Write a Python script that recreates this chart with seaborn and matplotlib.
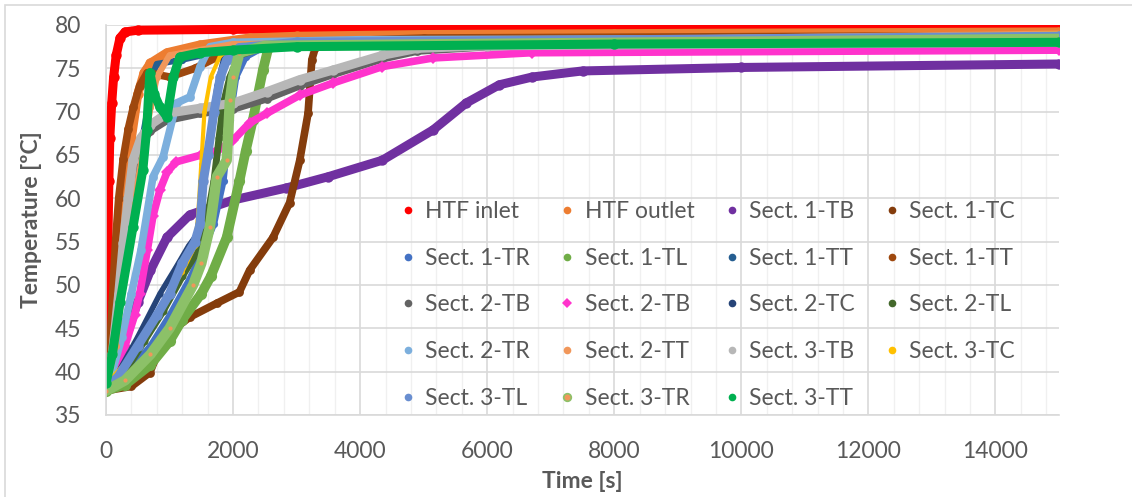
import matplotlib
matplotlib.use("Agg")
import matplotlib.pyplot as plt
from matplotlib.lines import Line2D
from matplotlib.patches import Rectangle
from matplotlib.ticker import MultipleLocator
import seaborn as sns

# ---- temperature histories: time [s] and temperature [ºC] per sensor ----
htf_inlet_t = [0, 15, 30, 45, 60, 90, 120, 160, 220, 300, 500, 2000, 6000, 15000]
htf_inlet_T = [38, 45, 55, 62, 67, 71, 74, 76.5, 78.5, 79.2, 79.4, 79.5, 79.6, 79.7]

htf_outlet_t = [0, 100, 200, 300, 400, 500, 600, 700, 960, 1480, 2260, 3000, 5000, 8000, 15000]
htf_outlet_T = [38, 42, 50, 60, 67, 72, 74.5, 75.6, 76.8, 77.7, 78.5, 78.7, 78.9, 79.0, 79.2]

s1_tb_t = [0, 100, 200, 350, 500, 700, 960, 1320, 2000, 2840, 3500, 4350, 5150, 5670, 6190, 6710, 7500, 10000, 15000]
s1_tb_T = [38, 39, 41, 45, 48, 51.7, 55.5, 58.1, 59.8, 61.2, 62.5, 64.4, 67.9, 71, 73.1, 74, 74.7, 75.1, 75.5]

s1_tc_t = [0, 400, 690, 820, 1000, 1320, 1745, 2100, 2260, 2630, 2890, 3050, 3180, 3240, 3300, 5000, 15000]
s1_tc_T = [37.8, 38.3, 39.9, 42.2, 44.5, 46.3, 47.9, 49.2, 51.7, 55.5, 59.5, 64.4, 69.8, 76, 77.5, 78, 78.5]

s1_tr_t = [0, 300, 700, 1000, 1300, 1500, 1700, 1850, 1950, 2050, 2200, 2500, 15000]
s1_tr_T = [38, 39.5, 43, 46.5, 50.5, 53.5, 57, 62, 69, 74, 76.3, 77.5, 78.7]

s1_tl_t = [0, 300, 700, 1000, 1200, 1500, 1650, 1900, 2100, 2200, 2310, 2470, 2560, 3000, 15000]
s1_tl_T = [37.8, 38.5, 40.8, 43.5, 46, 49, 51, 55.5, 62, 65.5, 69, 74.8, 77.5, 78, 78.6]

s1_tt_t = [0, 150, 300, 450, 550, 650, 700, 800, 1200, 2000, 15000]
s1_tt_T = [38, 44, 52, 60, 66, 70, 73.5, 75.5, 76, 77.3, 78.6]

s1_tt2_t = [0, 50, 100, 150, 200, 270, 350, 430, 530, 650, 1000, 1400, 1750, 2200, 3000, 5000, 15000]
s1_tt2_T = [38, 42, 48, 55, 60, 64.5, 68, 70.5, 73, 74.5, 74, 75, 76.3, 77.3, 78, 78.5, 78.8]

s2_tb_t = [0, 100, 200, 270, 350, 425, 550, 700, 960, 1480, 2000, 2530, 3050, 3570, 4350, 4900, 6000, 15000]
s2_tb_T = [38, 41.5, 48.5, 54, 59.5, 63.5, 66.3, 67.8, 69, 69.8, 70.3, 71.5, 73, 74.3, 76.1, 77, 77.5, 77.9]

s2_tb_pink_t = [0, 150, 300, 450, 530, 650, 740, 850, 960, 1100, 1500, 1750, 2000, 2260, 2530, 3050, 3570, 4350, 5150, 6700, 15000]
s2_tb_pink_T = [38, 40, 43, 46.5, 49, 54, 58, 61, 63, 64.2, 65, 65.5, 66.7, 68.7, 69.8, 71.9, 73.3, 75.2, 76.2, 76.8, 77.1]

s2_tc_t = [0, 200, 500, 850, 1100, 1300, 1450, 1550, 1650, 1750, 1850, 2000, 3000, 15000]
s2_tc_T = [38, 40, 44, 49, 52, 54.5, 56, 62, 68, 73, 76, 77.3, 78, 78.6]

s2_tl_t = [0, 300, 600, 900, 1200, 1450, 1600, 1700, 1780, 1850, 1950, 2100, 2500, 15000]
s2_tl_T = [38, 40, 43.5, 47, 51, 54, 58, 62, 67, 71, 74, 76.5, 77.5, 78.5]

s2_tr_t = [0, 100, 250, 400, 550, 740, 900, 1110, 1320, 1480, 1635, 2000, 4000, 15000]
s2_tr_T = [38.5, 40, 44, 49, 54, 62.5, 64.8, 71, 71.7, 75.2, 77.5, 78, 78.3, 78.5]

s2_tt_t = [0, 150, 300, 450, 600, 700, 800, 1000, 2000, 15000]
s2_tt_T = [38, 43, 52, 60, 66, 70.5, 74, 76.5, 77.8, 79]

s3_tb_t = [0, 100, 200, 270, 350, 425, 550, 700, 960, 1480, 2000, 2530, 3050, 3570, 4350, 4900, 6000, 15000]
s3_tb_T = [38, 42, 49, 54.8, 60, 64.4, 67, 68.5, 69.8, 70.4, 71, 72.3, 73.7, 74.8, 76.5, 77.3, 77.6, 78]

s3_tc_t = [0, 300, 600, 900, 1200, 1400, 1450, 1500, 1550, 1650, 1800, 2200, 15000]
s3_tc_T = [38.5, 41, 44.5, 48, 51.5, 54.5, 58, 64, 70, 74, 76.5, 77.8, 79]

s3_tl_t = [0, 200, 500, 800, 1000, 1200, 1400, 1480, 1530, 1600, 1700, 1800, 1900, 2100, 3000, 15000]
s3_tl_T = [38, 39.5, 43, 46.5, 49, 52.5, 55, 57, 62, 65, 70, 74, 76, 77.4, 78, 78.7]

s3_tr_t = [0, 300, 700, 1000, 1370, 1500, 1635, 1745, 1900, 1950, 2000, 2100, 2500, 15000]
s3_tr_T = [37.8, 39, 42, 45, 50, 52.5, 56.7, 62.5, 64.4, 71.3, 74, 76.8, 77.6, 78.4]

s3_tt_t = [0, 100, 220, 425, 580, 640, 690, 760, 850, 960, 1060, 1160, 1480, 2000, 3000, 8000, 15000]
s3_tt_T = [38.7, 42, 48, 56.7, 63.3, 67.9, 74.5, 72, 70.5, 69.4, 74, 76.3, 76.8, 77.1, 77.5, 77.8, 78]

labels = ["HTF inlet", "HTF outlet", "Sect. 1-TB", "Sect. 1-TC",
          "Sect. 1-TR", "Sect. 1-TL", "Sect. 1-TT", "Sect. 1-TT",
          "Sect. 2-TB", "Sect. 2-TB", "Sect. 2-TC", "Sect. 2-TL",
          "Sect. 2-TR", "Sect. 2-TT", "Sect. 3-TB", "Sect. 3-TC",
          "Sect. 3-TL", "Sect. 3-TR", "Sect. 3-TT"]
colors = ["#FF0000", "#ED7D31", "#7030A0", "#843C0C",
          "#4472C4", "#70AD47", "#255E91", "#9E480E",
          "#636363", "#FF33CC", "#264478", "#43682B",
          "#7CAFDD", "#F1975A", "#B7B7B7", "#FFC000",
          "#698ED0", "#8CC168", "#00B050"]

series_t = [htf_inlet_t, htf_outlet_t, s1_tb_t, s1_tc_t, s1_tr_t, s1_tl_t, s1_tt_t, s1_tt2_t,
            s2_tb_t, s2_tb_pink_t, s2_tc_t, s2_tl_t, s2_tr_t, s2_tt_t, s3_tb_t, s3_tc_t,
            s3_tl_t, s3_tr_t, s3_tt_t]
series_T = [htf_inlet_T, htf_outlet_T, s1_tb_T, s1_tc_T, s1_tr_T, s1_tl_T, s1_tt_T, s1_tt2_T,
            s2_tb_T, s2_tb_pink_T, s2_tc_T, s2_tl_T, s2_tr_T, s2_tt_T, s3_tb_T, s3_tc_T,
            s3_tl_T, s3_tr_T, s3_tt_T]

widths = [6.5, 6.5, 6.5, 5.5, 4.5, 7, 4.5, 5.5, 5.5, 5.5, 4, 5, 5.5, 4.5, 6.5, 3, 6.5, 7.5, 6.5]

sns.set_style("white")
plt.rcParams["font.family"] = ["Lato", "DejaVu Sans"]
text_color = "#595959"
fs = 16.5

fig = plt.figure(figsize=(11.32, 4.97), dpi=100)
ax = fig.add_axes([106 / 1132, 1 - 415 / 497, 953 / 1132, 390 / 497])

# chart-area frame
fig.patches.append(Rectangle((5 / 1132, -0.1), 1.2, 1 - 5 / 497 + 0.1,
                             transform=fig.transFigure, fill=False,
                             edgecolor="#D9D9D9", linewidth=1.2, zorder=0))

for i, (t, T) in enumerate(zip(series_t, series_T)):
    mk = "D" if i == 9 else "o"
    if i == 17:
        ms, mface = 3.0, "#F1975A"
    else:
        ms, mface = widths[i] * 1.15, colors[i]
    sns.lineplot(x=t, y=T, ax=ax, color=colors[i], linewidth=widths[i],
                 marker=mk, markersize=ms, markerfacecolor=mface,
                 markeredgewidth=0, sort=False, legend=False,
                 solid_capstyle="round", solid_joinstyle="round", zorder=2 + i * 0.01)

ax.set_xlim(0, 15000)
ax.set_ylim(35, 80)
ax.xaxis.set_major_locator(MultipleLocator(2000))
ax.xaxis.set_minor_locator(MultipleLocator(400))
ax.yaxis.set_major_locator(MultipleLocator(5))
ax.set_axisbelow(True)
ax.grid(which="major", axis="both", color="#D9D9D9", linewidth=1.2)
ax.grid(which="minor", axis="x", color="#F0F0F0", linewidth=1.0)
for side in ["top", "right"]:
    ax.spines[side].set_visible(False)
for side in ["left", "bottom"]:
    ax.spines[side].set_color("#D9D9D9")
    ax.spines[side].set_linewidth(1.2)
ax.tick_params(axis="both", which="both", length=0, labelsize=fs, labelcolor=text_color)
ax.tick_params(axis="y", pad=18)
ax.tick_params(axis="x", pad=19)

ax.set_xlabel("Time [s]", fontsize=fs, fontweight="bold", color=text_color)
ax.set_ylabel("Temperature [ºC]", fontsize=fs, fontweight="bold", color=text_color)
ax.xaxis.set_label_coords(0.5, (415 - 482) / 390)
ax.xaxis.label.set_va("center")
ax.yaxis.set_label_coords((32 - 106) / 953, 0.5)
ax.yaxis.label.set_va("center")

# legend, filled row by row in four columns
handles = []
for i in range(len(labels)):
    mk = "D" if i == 9 else "o"
    mface = "#F1975A" if i == 17 else colors[i]
    handles.append(Line2D([], [], linestyle="none", marker=mk, markersize=5.5 if i != 9 else 5,
                          color=colors[i], markerfacecolor=mface,
                          markeredgewidth=1.2 if i == 17 else 0))
order = [0, 4, 8, 12, 16, 1, 5, 9, 13, 17, 2, 6, 10, 14, 18, 3, 7, 11, 15]
leg = ax.legend([handles[k] for k in order], [labels[k] for k in order],
                ncol=4, loc="upper left", bbox_to_anchor=((402 - 106) / 953, (415 - 201) / 390),
                frameon=False, fontsize=fs, labelcolor=text_color,
                handlelength=0.5, handletextpad=0.5, columnspacing=1.38,
                labelspacing=1.12, borderaxespad=0, borderpad=0)

fig.savefig("out.png", dpi=100)
